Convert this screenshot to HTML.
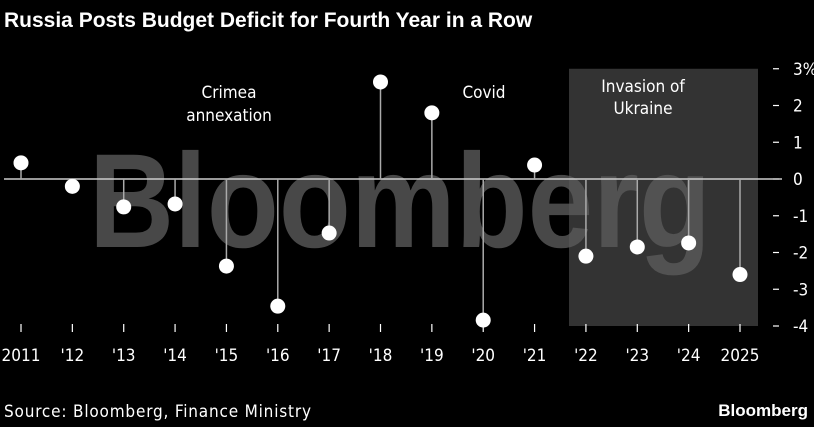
<!DOCTYPE html>
<html><head><meta charset="utf-8"><style>
body{margin:0;background:#000;width:814px;height:423px;overflow:hidden;font-family:"DejaVu Sans Condensed","Liberation Sans",sans-serif;color:#fff}
</style></head><body>
<svg width="814" height="423" xmlns="http://www.w3.org/2000/svg">
<text x="4" y="27" font-family="Liberation Sans, sans-serif" font-weight="bold" font-size="21" fill="#fff">Russia Posts Budget Deficit for Fourth Year in a Row</text>
<rect id="shade" fill="#333"/>
<text x="89" y="247" font-family="Liberation Sans, sans-serif" font-weight="bold" font-size="134" fill="#5a5a5a" opacity="0.8" textLength="622" lengthAdjust="spacingAndGlyphs">Bloomberg</text>
<g id="g"></g>
<text x="229" y="98" font-size="17" fill="#fff" text-anchor="middle">Crimea</text>
<text x="229" y="121" font-size="17" fill="#fff" text-anchor="middle">annexation</text>
<text x="484" y="98" font-size="17" fill="#fff" text-anchor="middle">Covid</text>
<text x="643" y="92" font-size="17" fill="#fff" text-anchor="middle">Invasion of</text>
<text x="643" y="114" font-size="17" fill="#fff" text-anchor="middle">Ukraine</text>
<text x="4" y="417" font-size="17" fill="#fff" textLength="307">Source: Bloomberg, Finance Ministry</text>
<text x="808" y="416" font-family="Liberation Sans, sans-serif" font-weight="bold" font-size="17" fill="#fff" text-anchor="end">Bloomberg</text>
</svg>
<script>
const years=["2011","'12","'13","'14","'15","'16","'17","'18","'19","'20","'21","'22","'23","'24","2025"];
const values=[0.44,-0.2,-0.76,-0.68,-2.37,-3.46,-1.47,2.64,1.8,-3.84,0.38,-2.1,-1.85,-1.74,-2.6];
const yTicks=[3,2,1,0,-1,-2,-3,-4];
const yTickLabels=["3%","2","1","0","-1","-2","-3","-4"];
const NS="http://www.w3.org/2000/svg";
const g=document.getElementById('g');
const x=i=>21+i*(740-21)/(years.length-1);
const y=v=>179-v*36.75;
function mk(t,a){const e=document.createElementNS(NS,t);for(const k in a)e.setAttribute(k,a[k]);g.appendChild(e);return e;}
const sh=document.getElementById('shade');
sh.setAttribute('x',569);sh.setAttribute('y',y(3));sh.setAttribute('width',189);sh.setAttribute('height',y(-4)-y(3));
yTicks.forEach((t,i)=>{
 const l=mk('line',{x1:773,x2:779,y1:y(t),y2:y(t),stroke:'#fff','stroke-width':1.2});
 
 
 const tx=mk('text',{x:793,y:y(t)+6,'font-size':17,fill:'#fff'});
 tx.textContent=yTickLabels[i];
 
 
});
const z=mk('line',{x1:4,x2:782,y1:y(0),y2:y(0),stroke:'#ccc','stroke-width':1.5});


years.forEach((yr,i)=>{
 const tk=mk('line',{x1:x(i),x2:x(i),y1:324,y2:332,stroke:'#fff','stroke-width':1.2});
 
 
 const t=mk('text',{x:x(i),y:361,'font-size':17,fill:'#fff','text-anchor':'middle'});
 t.textContent=yr;
 
 
 const st=mk('line',{x1:x(i),x2:x(i),y1:y(0),y2:y(values[i]),stroke:'#aaa','stroke-width':1.5});
 
 
 const c=mk('circle',{cx:x(i),cy:y(values[i]),r:7.5,fill:'#fff'});
 
 
});
</script>
</body></html>
